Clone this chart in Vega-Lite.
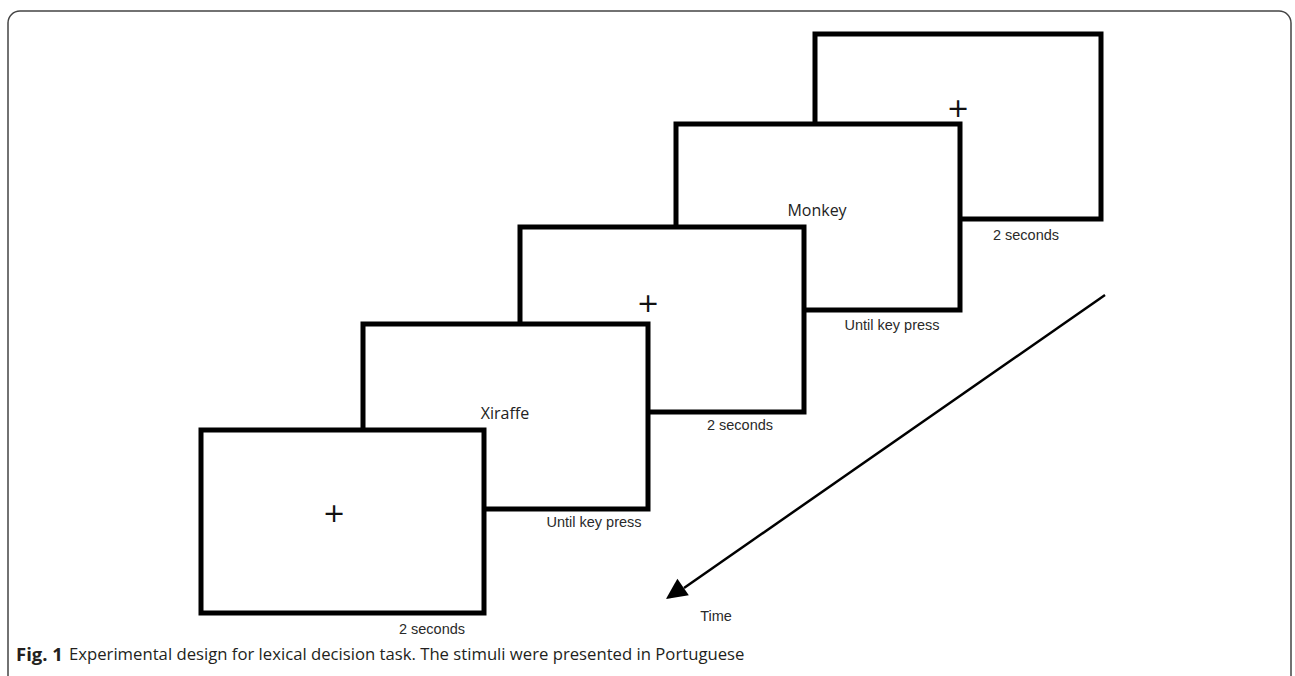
{
  "$schema": "https://vega.github.io/schema/vega-lite/v6.json",
  "width": 1295,
  "height": 676,
  "autosize": {"type": "fit", "contains": "padding"},
  "padding": 0,
  "background": "white",
  "config": {"view": {"stroke": null}},
  "datasets": {
    "frame": [{"x": 8, "x2": 1291, "y": 11, "y2": 720}],
    "screens": [
      {"screen": 5, "x": 815, "x2": 1101, "y": 34, "y2": 219},
      {"screen": 4, "x": 676, "x2": 960, "y": 124, "y2": 310},
      {"screen": 3, "x": 520, "x2": 804, "y": 227, "y2": 412},
      {"screen": 2, "x": 363, "x2": 648, "y": 324, "y2": 509},
      {"screen": 1, "x": 201, "x2": 484, "y": 430, "y2": 613}
    ],
    "fixation": [
      {"t": "+", "x": 334, "y": 513},
      {"t": "+", "x": 648, "y": 303},
      {"t": "+", "x": 958, "y": 108}
    ],
    "words": [
      {"t": "Xiraffe", "x": 505, "y": 414},
      {"t": "Monkey", "x": 817, "y": 211}
    ],
    "labels": [
      {"t": "2 seconds", "x": 1026, "y": 236},
      {"t": "Until key press", "x": 892, "y": 326},
      {"t": "2 seconds", "x": 740, "y": 426},
      {"t": "Until key press", "x": 594, "y": 523},
      {"t": "2 seconds", "x": 432, "y": 630},
      {"t": "Time", "x": 716, "y": 617}
    ],
    "arrow": [{"x": 1105, "y": 295, "x2": 684, "y2": 588}],
    "head": [{"x": 674.5, "y": 593}],
    "capBold": [{"t": "Fig. 1", "x": 16, "y": 655}],
    "cap": [{"t": "Experimental design for lexical decision task. The stimuli were presented in Portuguese", "x": 69, "y": 655}]
  },
  "layer": [
    {
      "data": {"name": "frame"},
      "mark": {"type": "rect", "filled": false, "stroke": "#444444", "strokeWidth": 1.5, "cornerRadius": 12, "clip": true},
      "encoding": {
        "x": {"field": "x", "type": "quantitative", "scale": {"domain": [0, 1295], "nice": false, "zero": false}, "axis": null},
        "x2": {"field": "x2"},
        "y": {"field": "y", "type": "quantitative", "scale": {"domain": [0, 676], "nice": false, "zero": false, "reverse": true}, "axis": null},
        "y2": {"field": "y2"}
      }
    },
    {
      "data": {"name": "screens"},
      "mark": {"type": "rect", "fill": "white", "stroke": "black", "strokeWidth": 5},
      "encoding": {
        "x": {"field": "x", "type": "quantitative", "axis": null},
        "x2": {"field": "x2"},
        "y": {"field": "y", "type": "quantitative", "axis": null},
        "y2": {"field": "y2"}
      }
    },
    {
      "data": {"name": "fixation"},
      "mark": {"type": "text", "font": "DejaVu Sans", "fontSize": 27, "baseline": "middle", "align": "center", "color": "#111111", "dy": 1},
      "encoding": {
        "x": {"field": "x", "type": "quantitative", "axis": null},
        "y": {"field": "y", "type": "quantitative", "axis": null},
        "text": {"field": "t"}
      }
    },
    {
      "data": {"name": "words"},
      "mark": {"type": "text", "font": "Open Sans", "fontSize": 16, "baseline": "middle", "align": "center", "color": "#222222"},
      "encoding": {
        "x": {"field": "x", "type": "quantitative", "axis": null},
        "y": {"field": "y", "type": "quantitative", "axis": null},
        "text": {"field": "t"}
      }
    },
    {
      "data": {"name": "labels"},
      "mark": {"type": "text", "font": "Liberation Sans", "fontSize": 14.5, "baseline": "middle", "align": "center", "color": "#2a2a2a"},
      "encoding": {
        "x": {"field": "x", "type": "quantitative", "axis": null},
        "y": {"field": "y", "type": "quantitative", "axis": null},
        "text": {"field": "t"}
      }
    },
    {
      "data": {"name": "arrow"},
      "mark": {"type": "rule", "stroke": "black", "strokeWidth": 2.5},
      "encoding": {
        "x": {"field": "x", "type": "quantitative", "axis": null},
        "y": {"field": "y", "type": "quantitative", "axis": null},
        "x2": {"field": "x2"},
        "y2": {"field": "y2"}
      }
    },
    {
      "data": {"name": "head"},
      "mark": {"type": "point", "shape": "M0,-1L0.95,1L-0.95,1Z", "filled": true, "fill": "black", "stroke": null, "opacity": 1, "size": 440, "angle": 235},
      "encoding": {
        "x": {"field": "x", "type": "quantitative", "axis": null},
        "y": {"field": "y", "type": "quantitative", "axis": null}
      }
    },
    {
      "data": {"name": "capBold"},
      "mark": {"type": "text", "font": "Open Sans", "fontSize": 18.5, "fontWeight": "bold", "baseline": "middle", "align": "left", "color": "#231f20"},
      "encoding": {
        "x": {"field": "x", "type": "quantitative", "axis": null},
        "y": {"field": "y", "type": "quantitative", "axis": null},
        "text": {"field": "t"}
      }
    },
    {
      "data": {"name": "cap"},
      "mark": {"type": "text", "font": "Open Sans", "fontSize": 16.7, "baseline": "middle", "align": "left", "color": "#231f20"},
      "encoding": {
        "x": {"field": "x", "type": "quantitative", "axis": null},
        "y": {"field": "y", "type": "quantitative", "axis": null},
        "text": {"field": "t"}
      }
    }
  ]
}
